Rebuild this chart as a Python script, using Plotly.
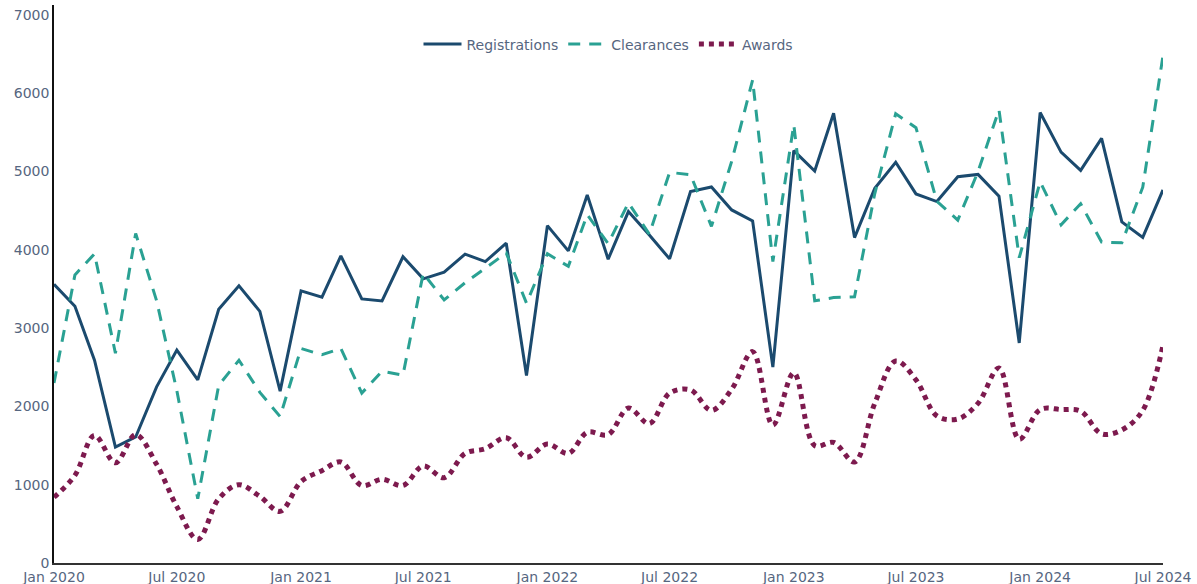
import pandas as pd
import plotly.graph_objects as go

# Monthly series, Jan 2020 - Jul 2024
months = pd.date_range("2020-01-01", "2024-07-01", freq="MS")

registrations = [
    3560, 3280, 2590, 1480, 1610, 2250, 2720, 2340, 3240, 3540, 3215, 2195,
    3476, 3395, 3923, 3374, 3348, 3912, 3630, 3715, 3945, 3850, 4085, 2395,
    4310, 3987, 4702, 3881, 4489, 4191, 3885, 4744, 4804, 4510, 4370, 2502,
    5268, 5008, 5745, 4157, 4787, 5119, 4715, 4617, 4935, 4964, 4687, 2811,
    5754, 5249, 5016, 5425, 4357, 4159, 4766,
]

clearances = [
    2300, 3680, 3950, 2680, 4210, 3350, 2200, 820, 2270, 2590, 2180, 1870,
    2740, 2660, 2740, 2170, 2450, 2400, 3700, 3360, 3580, 3770, 3960, 3320,
    3950, 3790, 4450, 4080, 4600, 4200, 4990, 4960, 4300, 5130, 6170, 3850,
    5600, 3350, 3390, 3400, 4720, 5740, 5560, 4620, 4380, 5000, 5790, 3900,
    4870, 4320, 4590, 4100, 4090, 4800, 6480,
]

awards = [
    840, 1120, 1630, 1280, 1640, 1260, 720, 300, 820, 1000, 850, 660,
    1040, 1180, 1290, 990, 1070, 990, 1240, 1090, 1400, 1460, 1600, 1350,
    1520, 1400, 1670, 1640, 1980, 1780, 2170, 2210, 1950, 2220, 2700, 1760,
    2430, 1500, 1540, 1290, 2040, 2580, 2340, 1880, 1840, 2040, 2490, 1580,
    1960, 1960, 1940, 1650, 1700, 1950, 2780,
]

C_REG = "#1b4a6e"
C_CLR = "#2aa193"
C_AWD = "#7d1a4e"
TEXT = "#566680"

fig = go.Figure()
fig.add_trace(go.Scatter(
    x=months, y=registrations, name="Registrations", mode="lines",
    line=dict(color=C_REG, width=3),
))
fig.add_trace(go.Scatter(
    x=months, y=clearances, name="Clearances", mode="lines",
    line=dict(color=C_CLR, width=3, dash="12px,9px"),
))
fig.add_trace(go.Scatter(
    x=months, y=awards, name="Awards", mode="lines",
    line=dict(color=C_AWD, width=5, dash="dot", shape="spline"),
))

fig.update_layout(
    width=1197, height=584,
    margin=dict(l=54, r=34, t=5, b=21),
    paper_bgcolor="white", plot_bgcolor="white",
    font=dict(family="DejaVu Sans", size=14, color=TEXT),
    showlegend=True,
    legend=dict(
        orientation="h", x=0.5, xanchor="center", y=0.958, yanchor="top",
        font=dict(size=14, color=TEXT), bgcolor="rgba(0,0,0,0)",
        itemwidth=38,
    ),
)
fig.update_xaxes(
    range=[months[0], months[-1]],
    dtick="M6", tick0="2020-01-01", tickformat="%b %Y",
    showgrid=False, zeroline=False,
    showline=True, linecolor="#333333", linewidth=1.5,
    ticks="", automargin=False,
)
fig.update_yaxes(
    range=[0, max(clearances) * 1.1],
    dtick=1000,
    showgrid=False, zeroline=False,
    showline=True, linecolor="#111111", linewidth=1.5,
    ticks="", automargin=False,
)

fig.write_html("out.html")
